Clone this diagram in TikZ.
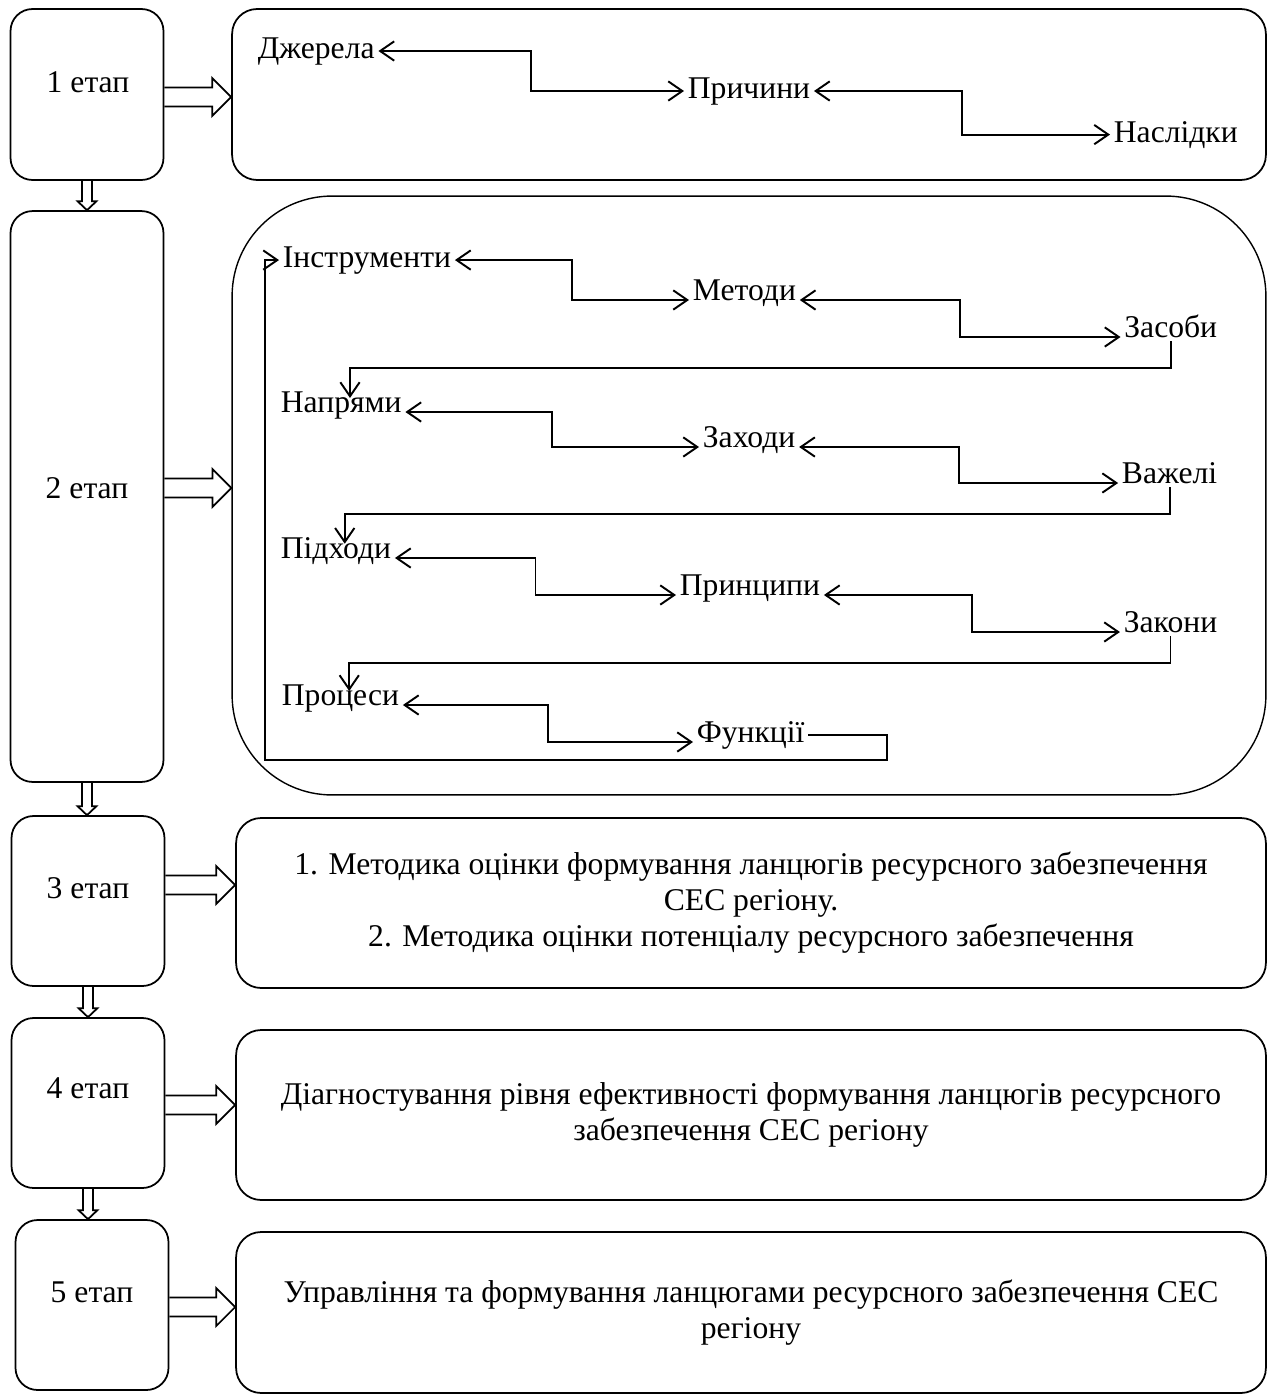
\documentclass[tikz,border=0pt]{standalone}
\usepackage{fontspec}
\setmainfont{Liberation Serif}
\usetikzlibrary{arrows.meta, calc}

\newcommand{\stageright}[3]{%
    \draw[hollow] ($(#1.east |- 0,#3)+(0,-9.5)$) -- ($(#2.west |- 0,#3)+(-19,-9.5)$) -- ++(0,-9.5) -- (#2.west |- 0,#3) -- ++(-19,19) -- ++(0,-9.5) -- ($(#1.east |- 0,#3)+(0,9.5)$);}
\newcommand{\stagedown}[2]{%
    \draw[hollow] ($(#1.south)+(-5,0)$) -- ($(#2.north -| #1.south)+(-5,-9)$) -- ++(-4.5,0) -- (#2.north -| #1.south) -- ++(9.5,-9) -- ++(-4.5,0) -- ($(#1.south)+(5,0)$);}

\begin{document}
\begin{tikzpicture}[x=0.02cm, y=-0.02cm,
        every node/.style={font=\fontsize{18}{20.5}\selectfont},
        stagebox/.style={draw, line width=1pt, rounded corners=0.44cm, minimum width=3.06cm, minimum height=3.4cm},
        infobox/.style={draw, line width=1pt, rounded corners=0.5cm, minimum width=20.6cm, minimum height=3.4cm, align=center},
        word/.style={inner sep=2pt, anchor=base west},
        wordr/.style={inner sep=2pt, anchor=base east},
        link/.style={line width=1.1pt, {Straight Barb[length=8pt,width=11pt]}-{Straight Barb[length=8pt,width=11pt]}},
        flow/.style={line width=1.1pt, -{Straight Barb[length=8pt,width=11pt]}},
        hollow/.style={line width=1pt, line join=miter}]
        \useasboundingbox (0,0) rectangle (1270,1396);

        \node[stagebox, minimum height=3.42cm] (b1) at (87,94.5) {};
        \node[stagebox, minimum height=11.42cm] (b2) at (87,496.5) {};
        \node[stagebox] (b3) at (88,901) {};
        \node[stagebox] (b4) at (88,1103) {};
        \node[stagebox] (b5) at (92,1305) {};
        \node (t1) at (88,82) {1 етап};
        \node (t2) at (87,488) {2 етап};
        \node (t3) at (88,888) {3 етап};
        \node (t4) at (88,1088) {4 етап};
        \node (t5) at (92,1292) {5 етап};

        \node[infobox, minimum width=20.68cm, minimum height=3.42cm] (r1) at (749,94.5) {};
        \node[infobox, minimum width=20.68cm, minimum height=11.98cm, rounded corners=2cm, line width=0.8pt] (r2) at (749,495.5) {};
        \node[infobox] (r3) at (751,903) {1. Методика оцінки формування ланцюгів ресурсного забезпечення\\СЕС регіону.\\2. Методика оцінки потенціалу ресурсного забезпечення};
        \node[infobox] (r4) at (751,1115) {Діагностування рівня ефективності формування ланцюгів ресурсного\\забезпечення СЕС регіону};
        \node[infobox, minimum height=3.22cm] (r5) at (751,1312.5) {Управління та формування ланцюгами ресурсного забезпечення СЕС\\регіону};

        \stageright{b1}{r1}{97}
        \stageright{b2}{r2}{488}
        \stageright{b3}{r3}{885}
        \stageright{b4}{r4}{1105}
        \stageright{b5}{r5}{1307}
        \stagedown{b1}{b2}
        \stagedown{b2}{b3}
        \stagedown{b3}{b4}
        \stagedown{b4}{b5}

        \node[word] (dzh) at (254,58) {Джерела};
        \node[word] (pry) at (684,98) {Причини};
        \node[word] (nas) at (1110,142) {Наслідки};
        \draw[link] (dzh.east) -| ($(dzh.east)!.5!(pry.west)$) |- (pry.west);
        \draw[link] (pry.east) -| ($(pry.east)!.5!(nas.west)$) |- (nas.west);

        \node[word] (instr) at (279,267) {Інструменти};
        \node[word] (met) at (689,300) {Методи};
        \node[wordr] (zas) at (1221,337) {Засоби};
        \node[word] (nap) at (277,412) {Напрями};
        \node[word] (zah) at (699,447) {Заходи};
        \node[wordr] (vaz) at (1221,483) {Важелі};
        \node[word] (pid) at (277,558) {Підходи};
        \node[word] (pryn) at (676,595) {Принципи};
        \node[wordr] (zak) at (1221,632) {Закони};
        \node[word] (pro) at (278,705) {Процеси};
        \node[word] (fun) at (693,742) {Функції};
        \coordinate (loopr) at (887,760);
        \coordinate (loopl) at (265,760);

        \draw[link] (instr.east) -| ($(instr.east)!.5!(met.base west)$) |- (met.base west);
        \draw[link] (met.base east) -| ($(met.base east)!.5!(zas.base west)$) |- (zas.base west);
        \draw[link] (nap.base east) -| ($(nap.base east)!.5!(zah.base west)$) |- (zah.base west);
        \draw[link] (zah.base east) -| ($(zah.base east)!.5!(vaz.base west)$) |- (vaz.base west);
        \draw[link] (pid.base east) -| ($(pid.base east)!.5!(pryn.base west)$) |- (pryn.base west);
        \draw[link] (pryn.base east) -| ($(pryn.base east)!.5!(zak.base west)$) |- (zak.base west);
        \draw[link] (pro.base east) -| ($(pro.base east)!.5!(fun.base west)$) |- (fun.base west);
        \draw[flow] (zas.south) -- ++(0,27) -| ([xshift=5pt,yshift=-6pt]nap.north);
        \draw[flow] (vaz.south) -- ++(0,27) -| ([xshift=5pt,yshift=-6pt]pid.north);
        \draw[flow] (zak.south) -- ++(0,27) -| ([xshift=5pt,yshift=-6pt]pro.north);
        \draw[flow] (fun.east) -| (loopr) -- (loopl) |- (instr.west);
    \end{tikzpicture}
\end{document}
